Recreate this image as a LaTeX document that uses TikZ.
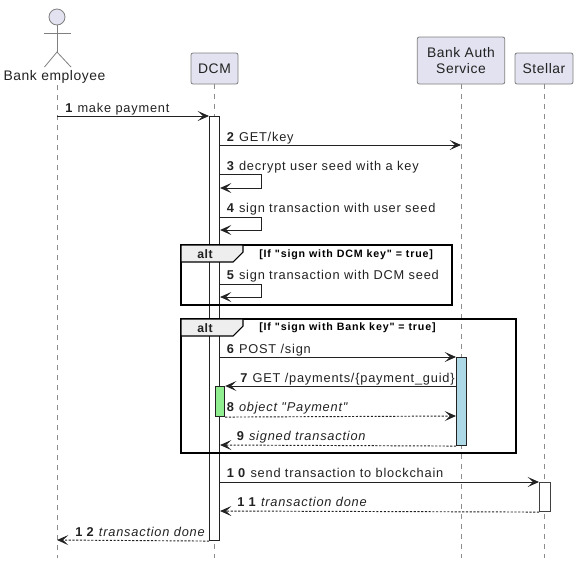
\documentclass[tikz,border=0pt]{standalone}
\usepackage{fontspec}
\newfontfamily\lib{Liberation Sans}
\usetikzlibrary{arrows.meta}
\definecolor{partfill}{HTML}{E2E2F0}
\definecolor{partline}{HTML}{7F7F7F}
\definecolor{lifeline}{HTML}{8C8C8C}
\definecolor{inkdark}{HTML}{222222}
\definecolor{tabfill}{HTML}{EEEEEE}
\definecolor{greenbar}{HTML}{90EE90}
\definecolor{bluebar}{HTML}{ADD8E6}
\newcommand{\lblfont}{\lib\fontsize{9.6}{11.5}\selectfont\addfontfeature{LetterSpace=6.2}}
\newcommand{\num}[1]{\textbf{#1}}
\tikzset{
  x=0.75pt,y=-0.75pt,
  participant/.style={draw=partline,fill=partfill,rounded corners=1.5pt,line width=0.6pt,align=center,inner sep=0pt,text=inkdark,font=\lib\fontsize{10.4}{12}\selectfont\addfontfeature{LetterSpace=4}},
  lifedash/.style={draw=lifeline,line width=0.6pt,dash pattern=on 3.75pt off 3.75pt},
  actorline/.style={draw=partline,line width=0.6pt},
  bar/.style={draw=inkdark,line width=0.8pt,inner sep=0pt,anchor=north west},
  msg/.style={draw=inkdark,line width=0.7pt,-{Stealth[length=8.5pt,width=7.5pt,inset=4pt]}},
  ret/.style={msg,dash pattern=on 1.6pt off 1.2pt},
  lbl/.style={anchor=base west,inner sep=0pt,text=inkdark,font=\lblfont},
  frame/.style={draw=black,line width=1.2pt},
  framelbl/.style={anchor=base west,inner sep=0pt,text=black,font=\lib\fontsize{8}{9}\selectfont\bfseries\addfontfeature{LetterSpace=8}},
  tab/.style={draw=black,line width=0.8pt,fill=tabfill},
  altlbl/.style={anchor=center,inner sep=0pt,text=inkdark,font=\lib\fontsize{9.2}{11}\selectfont\bfseries\addfontfeature{LetterSpace=4}},
}
\begin{document}
\begin{tikzpicture}
\useasboundingbox (0,0) rectangle (578,572);
% participants
\node[circle,draw=partline,fill=partfill,line width=0.6pt,minimum size=12pt,inner sep=0pt] (head) at (57,17) {};
\coordinate (neck) at (57,52);
\coordinate (armL) at (44,33);
\coordinate (armR) at (71,33);
\coordinate (footL) at (44.5,67);
\coordinate (footR) at (71,67);
\draw[actorline] (head.south) -- (neck);
\draw[actorline] (armL) -- (armR);
\draw[actorline] (footL) -- (neck) -- (footR);
\node[anchor=center,inner sep=0pt,text=inkdark,font=\lib\fontsize{10.4}{12}\selectfont\addfontfeature{LetterSpace=4}] (emp) at (54.5,77) {Bank employee};
\node[participant,minimum width=35.25pt,minimum height=23.25pt] (dcm) at (214.5,68.5) {DCM};
\node[participant,minimum width=65.6pt,minimum height=35.25pt] (auth) at (461,60.5) {Bank Auth\\Service};
\node[participant,minimum width=43.5pt,minimum height=23.25pt] (stellar) at (544,68.5) {Stellar};
% lifeline ends
\coordinate (empEnd) at (57,558);
\coordinate (empTop) at (57,85);
\coordinate (dcmEnd) at (214.5,558);
\coordinate (authEnd) at (461,558);
\coordinate (stellarEnd) at (544,558);
\draw[lifedash] (empTop) -- (empEnd);
\draw[lifedash] (dcm.south) -- (dcmEnd);
\draw[lifedash] (auth.south) -- (authEnd);
\draw[lifedash] (stellar.south) -- (stellarEnd);
% activation bars
\node[bar,fill=white,minimum width=7.5pt,minimum height=318pt] (dcmbar) at (209,116) {};
\node[bar,fill=greenbar,minimum width=7.2pt,minimum height=22.5pt] (greenb) at (214.5,386) {};
\node[bar,fill=bluebar,minimum width=7.5pt,minimum height=66pt] (blueb) at (456,357) {};
\node[bar,fill=white,minimum width=8.25pt,minimum height=21.75pt,draw=black!75] (stellarb) at (539,482) {};
% message levels
\coordinate (m1) at (0,116);
\coordinate (m2) at (0,145);
\coordinate (m3a) at (261,174);
\coordinate (m3b) at (261,188);
\coordinate (m4a) at (261,217);
\coordinate (m4b) at (261,230);
\coordinate (m5a) at (261,284);
\coordinate (m5b) at (261,297);
\coordinate (m7) at (0,386);
\coordinate (m8) at (0,416);
\coordinate (m9) at (0,445);
\coordinate (m11) at (0,511);
\coordinate (m12) at (0,540);
\coordinate (m2end) at (461,145);
% frames
\draw[frame] (181,245) rectangle (452,305);
\draw[tab] (181,245) -- (243,245) -- (243,252) -- (233,262) -- (181,262) -- cycle;
\node[altlbl] (alta) at (205,254.5) {alt};
\node[framelbl] (conda) at (259,257) {[If "sign with DCM key" = true]};
\draw[frame] (181,319) rectangle (516,453);
\draw[tab] (181,319) -- (243,319) -- (243,326) -- (233,336) -- (181,336) -- cycle;
\node[altlbl] (altb) at (205,328) {alt};
\node[framelbl] (condb) at (259,330) {[If "sign with Bank key" = true]};
% messages
\draw[msg] (empTop |- m1) -- (dcmbar.north west);
\node[lbl] (l1) at (65,112) {\num{1} make payment};
\draw[msg] (dcmbar.east |- m2) -- (m2end);
\node[lbl] (l2) at (226.5,141) {\num{2} GET/key};
\draw[msg] (dcmbar.east |- m3a) -- (m3a) -- (m3b) -- (dcmbar.east |- m3b);
\node[lbl] (l3) at (226.5,170) {\num{3} decrypt user seed with a key};
\draw[msg] (dcmbar.east |- m4a) -- (m4a) -- (m4b) -- (dcmbar.east |- m4b);
\node[lbl] (l4) at (226.5,212) {\num{4} sign transaction with user seed};
\draw[msg] (dcmbar.east |- m5a) -- (m5a) -- (m5b) -- (dcmbar.east |- m5b);
\node[lbl] (l5) at (226.5,279) {\num{5} sign transaction with DCM seed};
\draw[msg] (dcmbar.east |- blueb.north west) -- (blueb.north west);
\node[lbl] (l6) at (226.5,353) {\num{6} POST /sign};
\draw[msg] (blueb.west |- m7) -- (greenb.east |- m7);
\node[lbl] (l7) at (240,382) {\num{7} GET /payments/\{payment\_guid\}};
\draw[ret] (greenb.south east) -- (blueb.west |- m8);
\node[lbl] (l8) at (226.5,411) {\num{8} \textit{object "Payment"}};
\draw[ret] (blueb.south west) -- (dcmbar.east |- m9);
\node[lbl] (l9) at (236.5,440) {\num{9} \textit{signed transaction}};
\draw[msg] (dcmbar.east |- stellarb.north west) -- (stellarb.north west);
\node[lbl] (l10) at (226.5,477) {\num{1 0} send transaction to blockchain};
\draw[ret] (stellarb.south west) -- (dcmbar.east |- m11);
\node[lbl] (l11) at (237,506) {\num{1 1} \textit{transaction done}};
\draw[ret] (dcmbar.south west) -- (empTop |- m12);
\node[lbl] (l12) at (75,536) {\num{1 2} \textit{transaction done}};
\end{tikzpicture}
\end{document}
